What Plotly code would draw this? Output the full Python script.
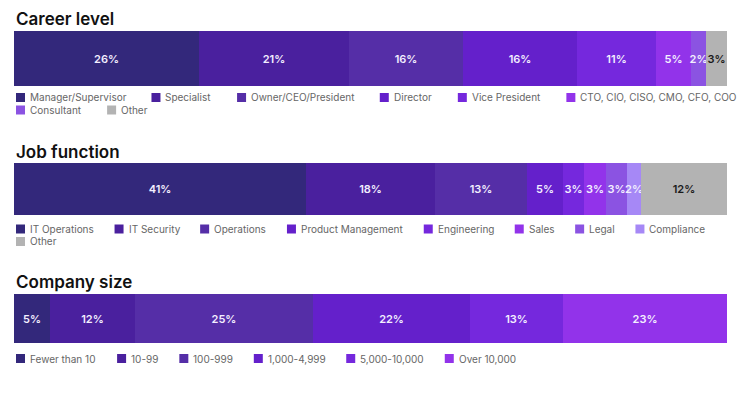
import plotly.graph_objects as go

# ---------------- data ----------------
career_labels = ["Manager/Supervisor", "Specialist", "Owner/CEO/President", "Director",
                 "Vice President", "CTO, CIO, CISO, CMO, CFO, COO", "Consultant", "Other"]
career_values = [26, 21, 16, 16, 11, 5, 2, 3]

job_labels = ["IT Operations", "IT Security", "Operations", "Product Management",
              "Engineering", "Sales", "Legal", "Compliance", "Other"]
job_values = [41, 18, 13, 5, 3, 3, 3, 2, 12]

size_labels = ["Fewer than 10", "10-99", "100-999", "1,000-4,999", "5,000-10,000", "Over 10,000"]
size_values = [5, 12, 25, 22, 13, 23]

titles = ["Career level", "Job function", "Company size"]

# ---------------- styles ----------------
color_map = {
    "Manager/Supervisor": "#33287b", "Specialist": "#4a209e", "Owner/CEO/President": "#552ea7",
    "Director": "#6420cb", "Vice President": "#7528dd", "CTO, CIO, CISO, CMO, CFO, COO": "#9233ea",
    "Consultant": "#8b53e2", "Other": "#b3b3b3",
    "IT Operations": "#33287b", "IT Security": "#4a209e", "Operations": "#552ea7",
    "Product Management": "#6420cb", "Engineering": "#7528dd", "Sales": "#9233ea",
    "Legal": "#8b53e2", "Compliance": "#a688f6",
    "Fewer than 10": "#33287b", "10-99": "#4a209e", "100-999": "#552ea7",
    "1,000-4,999": "#6420cb", "5,000-10,000": "#7528dd", "Over 10,000": "#9233ea",
}

PAGE_W, PAGE_H = 752, 394
OFF = 8  # browser body margin
FW, FH = PAGE_W - 2 * OFF, PAGE_H - 2 * OFF


def fx(px):
    return (px - OFF) / FW


def fy(py):
    return (FH - (py - OFF)) / FH


# approximate advance widths (em) for Inter regular, used to lay out the legend rows
CW = {' ': .28, 'a': .55, 'b': .60, 'c': .55, 'd': .60, 'e': .57, 'f': .36, 'g': .60, 'h': .58,
      'i': .24, 'j': .25, 'k': .52, 'l': .24, 'm': .87, 'n': .58, 'o': .58, 'p': .60, 'q': .60,
      'r': .37, 's': .51, 't': .35, 'u': .58, 'v': .53, 'w': .78, 'x': .52, 'y': .53, 'z': .52,
      'A': .68, 'B': .64, 'C': .69, 'D': .70, 'E': .56, 'F': .55, 'G': .72, 'H': .72, 'I': .27,
      'L': .52, 'M': .84, 'N': .72, 'O': .73, 'P': .61, 'R': .62, 'S': .62, 'T': .60, 'V': .68,
      'W': .94, '/': .33, ',': .28, '-': .45, '.': .28, '1': .42}


def text_w(s, size):
    return sum(CW.get(ch, .60) for ch in s) * size * 1.02


LEG_FONT = 10
SQ = 9           # legend swatch size
SQ_TXT = 13      # swatch left edge -> text start
ROW_H = 12.5
LEFT, RIGHT_LIMIT = 16, 745

panels = [
    dict(labels=career_labels, values=career_values, bar=(31, 86), title=19, legend=97.5, gap=27),
    dict(labels=job_labels, values=job_values, bar=(163, 215), title=152, legend=229, gap=22),
    dict(labels=size_labels, values=size_values, bar=(294, 343), title=282, legend=358.5, gap=22),
]

fig = go.Figure()
x0, x1 = fx(14), fx(727)
layout = dict(
    width=FW, height=FH, margin=dict(l=0, r=0, t=0, b=0),
    paper_bgcolor="white", plot_bgcolor="white",
    barmode="stack", bargap=0, showlegend=False,
    font=dict(family="Inter, Open Sans, sans-serif"),
    uniformtext=dict(minsize=11, mode="show"),
)
annotations, shapes = [], []
for i, p in enumerate(panels):
    n = "" if i == 0 else str(i + 1)
    for lab, val in zip(p["labels"], p["values"]):
        fig.add_trace(go.Bar(
            x=[val], y=[""], orientation="h", name=lab,
            marker=dict(color=color_map[lab], line=dict(width=0)),
            text=[f"{val}%"], textposition="inside", insidetextanchor="middle",
            constraintext="none", textangle=0,
            textfont=dict(size=11, color="#1a1a1a" if lab == "Other" else "#f3efff",
                          family="Inter, sans-serif", weight=600),
            xaxis="x" + n, yaxis="y" + n, hoverinfo="skip",
        ))
    layout["xaxis" + n] = dict(domain=[x0, x1], range=[0, sum(p["values"])], visible=False,
                               anchor="y" + n, fixedrange=True)
    layout["yaxis" + n] = dict(domain=[fy(p["bar"][1]), fy(p["bar"][0])], range=[-0.5, 0.5],
                               visible=False, anchor="x" + n, fixedrange=True)
    annotations.append(dict(text=titles[i], x=fx(15), y=fy(p["title"]), xref="paper", yref="paper",
                            xanchor="left", yanchor="middle", showarrow=False, borderpad=0,
                            font=dict(size=17, color="#111111", family="Inter, sans-serif", weight=600)))
    # legend rows laid out from label widths
    cx, cy = LEFT, p["legend"]
    for lab in p["labels"]:
        tw = text_w(lab, LEG_FONT)
        if cx > LEFT and cx + SQ_TXT + tw > RIGHT_LIMIT:
            cx, cy = LEFT, cy + ROW_H
        shapes.append(dict(type="rect", xref="paper", yref="paper",
                           x0=fx(cx), x1=fx(cx + SQ), y0=fy(cy + SQ / 2), y1=fy(cy - SQ / 2),
                           fillcolor=color_map[lab], line=dict(width=0)))
        annotations.append(dict(text=lab, x=fx(cx + SQ_TXT), y=fy(cy), xref="paper", yref="paper",
                                xanchor="left", yanchor="middle", showarrow=False, borderpad=0,
                                font=dict(size=LEG_FONT, color="#666666", family="Inter, sans-serif")))
        cx = cx + SQ_TXT + tw + p["gap"]
layout["annotations"] = annotations
layout["shapes"] = shapes
fig.update_layout(**layout)
fig.write_html("out.html", config=dict(displayModeBar=False))
